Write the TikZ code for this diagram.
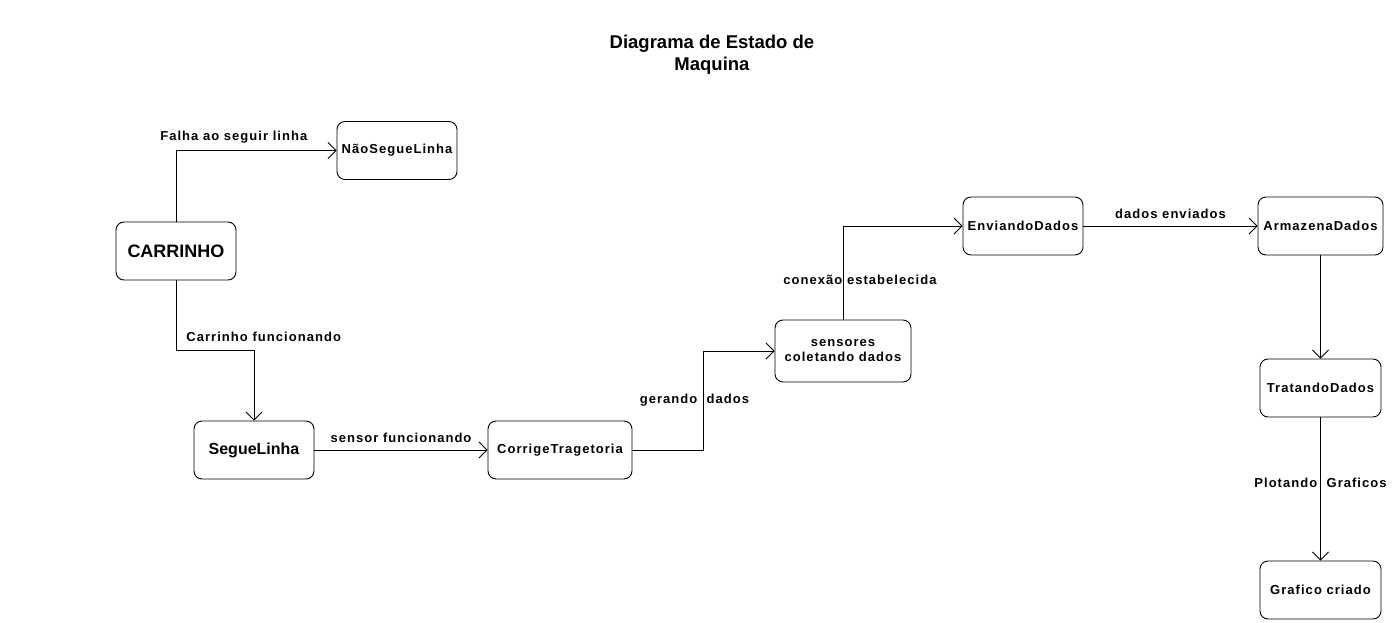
\documentclass[tikz,border=0pt]{standalone}
\usepackage{fontspec}
\setmainfont{Liberation Sans}
\newfontfamily\spacedfont[LetterSpace=8]{Liberation Sans}
\usetikzlibrary{arrows.meta}

\begin{document}
\begin{tikzpicture}[x=1pt, y=-1pt, line width=0.9pt, >={Straight Barb[length=8pt,width=16pt]},
    snode/.style={draw,rounded corners=8pt,minimum width=120pt,minimum height=58pt,inner sep=2pt,align=center,font=\spacedfont\bfseries\fontsize{13}{15}\selectfont},
    elabel/.style={inner sep=0pt,font=\spacedfont\bfseries\fontsize{13}{15}\selectfont}]
    \useasboundingbox (0,0) rectangle (1395,623);

    \node[align=center, font=\bfseries\fontsize{18.5}{22}\selectfont] (title) at (712,55) {Diagrama de Estado de\\Maquina};

    \node[snode, font=\bfseries\fontsize{18}{20}\selectfont] (carrinho) at (176,251) {CARRINHO};
    \node[snode] (naosegue) at (397,150.5) {NãoSegueLinha};
    \node[snode, font=\bfseries\fontsize{16}{18}\selectfont] (segue) at (254,450) {SegueLinha};
    \node[snode, minimum width=144pt] (corrige) at (560,450) {CorrigeTragetoria};
    \node[snode, minimum width=136pt, minimum height=62pt] (sensores) at (843,351) {sensores\\coletando dados};
    \node[snode] (enviando) at (1023,226) {EnviandoDados};
    \node[snode, minimum width=125pt] (armazena) at (1320.5,226) {ArmazenaDados};
    \node[snode, minimum width=121pt] (tratando) at (1320.5,388) {TratandoDados};
    \node[snode, minimum width=121pt] (grafico) at (1320.5,590) {Grafico criado};

    \draw[->] (carrinho.north) |- node[elabel, pos=0.68, above=7pt] {Falha ao seguir linha} (naosegue.west);
    \draw[->] (carrinho.south) -- ++(0,70) node[elabel, anchor=south west, xshift=10pt, yshift=8pt] {Carrinho funcionando} -| (segue.north);
    \draw[->] (segue) -- node[elabel, above=7pt] {sensor funcionando} (corrige);
    \draw[->] (corrige.east) -- ++(71,0) |- node[elabel, pos=0.25, xshift=-9pt] {gerando\ \ dados} (sensores.west);
    \draw[->] (sensores.north) |- node[elabel, pos=0.25, xshift=17pt, yshift=-7pt] {conexão\ estabelecida} (enviando.west);
    \draw[->] (enviando) -- node[elabel, above=7pt] {dados enviados} (armazena);
    \draw[->] (armazena) -- (tratando);
    \draw[->] (tratando) -- node[elabel, yshift=6pt] {Plotando\ \ Graficos} (grafico);
\end{tikzpicture}
\end{document}
